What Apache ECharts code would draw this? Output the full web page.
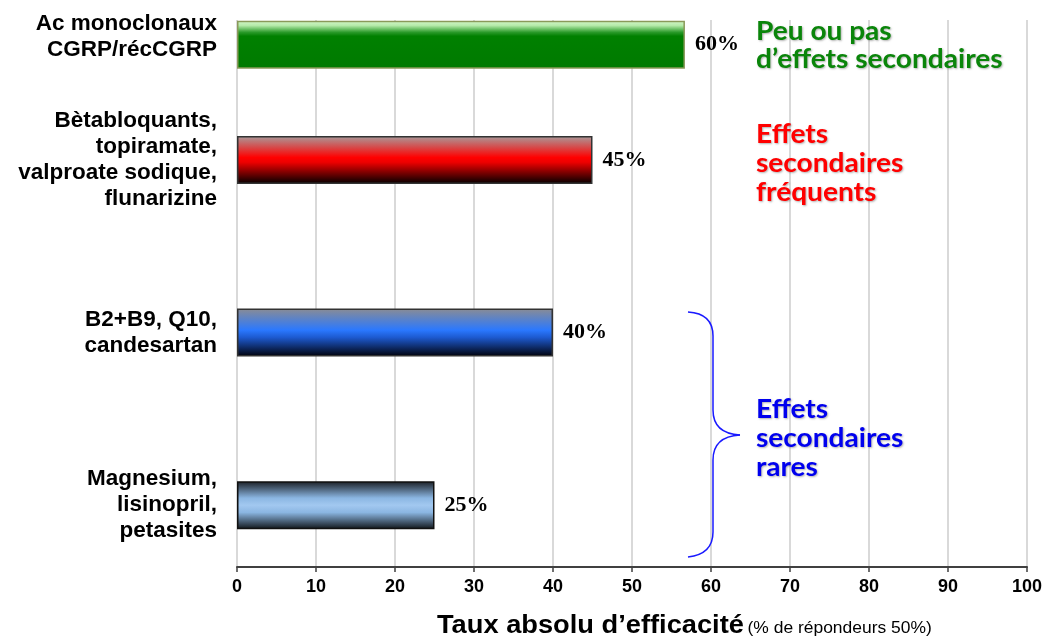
<!DOCTYPE html>
<html>
<head>
<meta charset="utf-8">
<script src="https://cdn.jsdelivr.net/npm/echarts@6/dist/echarts.min.js"></script>
<style>
html,body{margin:0;padding:0;background:#fff;}
#chart{width:1045px;height:639px;}
</style>
</head>
<body>
<div id="chart"></div>
<script>
// ---- data ----
const categories = [
  'Ac monoclonaux\nCGRP/récCGRP',
  'Bètabloquants,\ntopiramate,\nvalproate sodique,\nflunarizine',
  'B2+B9, Q10,\ncandesartan',
  'Magnesium,\nlisinopril,\npetasites'
];
const values = [56.7, 45, 40, 25];
const valueLabels = ['60%', '45%', '40%', '25%'];
const xTicks = { min: 0, max: 100, interval: 10 };
const axisTitle = 'Taux absolu d’efficacité';
const axisSubtitle = '(% de répondeurs 50%)';
const notes = [
  { text: 'Peu ou pas\nd’effets secondaires', color: '#0a850a' },
  { text: 'Effets\nsecondaires\nfréquents', color: '#ff0000' },
  { text: 'Effets\nsecondaires\nrares', color: '#0000ee' }
];

// ---- layout (slot index of each bar on the category axis) ----
const slotOf = [0, 2, 5, 8];
const slotCount = 9;

const G = echarts.graphic.LinearGradient;
const fills = [
  new G(0,0,0,1,[{offset:0,color:'#d4f8cc'},{offset:0.1,color:'#b4eaa8'},{offset:0.24,color:'#2a9a2a'},{offset:0.32,color:'#008000'},{offset:1,color:'#007a00'}]),
  new G(0,0,0,1,[{offset:0,color:'#a89c9c'},{offset:0.45,color:'#ff0000'},{offset:0.55,color:'#ee0000'},{offset:1,color:'#000000'}]),
  new G(0,0,0,1,[{offset:0,color:'#8a8c94'},{offset:0.45,color:'#2a78ff'},{offset:0.6,color:'#1d5ad0'},{offset:1,color:'#000008'}]),
  new G(0,0,0,1,[{offset:0,color:'#1a1e24'},{offset:0.35,color:'#8bb6e2'},{offset:0.5,color:'#a2c8f0'},{offset:0.65,color:'#8bb6e2'},{offset:1,color:'#101418'}])
];
const borders = ['#8a9a5a', '#333333', '#333333', '#111111'];

const catData = [];
const barData = [];
for (let s = 0; s < slotCount; s++) {
  const i = slotOf.indexOf(s);
  if (i < 0) { catData.push(''); barData.push('-'); continue; }
  catData.push(categories[i]);
  barData.push({
    value: values[i],
    itemStyle: { color: fills[i], borderColor: borders[i], borderWidth: 1.5 },
    label: { formatter: valueLabels[i] }
  });
}

const braceStyle = { stroke: '#1a1aff', lineWidth: 1.5, fill: 'none' };
const noteStyle = { fontSize: 26, lineHeight: 29, fontWeight: 'bold', fontFamily: 'Lato, "Open Sans", sans-serif',
  textShadowColor: 'rgba(0,0,0,0.3)', textShadowBlur: 2, textShadowOffsetX: 1, textShadowOffsetY: 1 };

const chart = echarts.init(document.getElementById('chart'));
chart.setOption({
  animation: false,
  grid: [
    { left: 237, right: 18, top: 16, height: 518 },
    { left: 237, right: 18, top: 20, bottom: 72 }
  ],
  xAxis: [
    { gridIndex: 0, type: 'value', min: xTicks.min, max: xTicks.max, interval: xTicks.interval, show: false },
    { gridIndex: 1, type: 'value', min: xTicks.min, max: xTicks.max, interval: xTicks.interval,
      axisLine: { show: true, lineStyle: { color: '#404040', width: 2 } },
      axisTick: { show: true, length: 5, lineStyle: { color: '#404040', width: 1.5 } },
      axisLabel: { color: '#000', fontWeight: 'bold', fontSize: 18, fontFamily: '"Liberation Sans Narrow", "Liberation Sans", Arial, sans-serif', margin: 11 },
      splitLine: { show: true, lineStyle: { color: '#d9d9d9', width: 2 } }
    }
  ],
  yAxis: [
    { gridIndex: 0, type: 'category', inverse: true, data: catData,
      axisLine: { show: false }, axisTick: { show: false },
      axisLabel: { color: '#000', fontWeight: 'bold', fontSize: 22.5, lineHeight: 26, align: 'right', margin: 20,
        fontFamily: '"Liberation Sans", Arial, sans-serif', interval: 0,
        formatter: function (v, idx) { return idx === 0 ? v + '\n{gap|}' : v; },
        rich: { gap: { lineHeight: 16, fontSize: 10 } } }
    },
    { gridIndex: 1, type: 'value', show: false }
  ],
  series: [{
    type: 'bar', xAxisIndex: 0, yAxisIndex: 0, data: barData, barWidth: 48,
    label: { show: true, position: 'right', distance: 10, color: '#000', fontWeight: 'bold', fontSize: 22,
      fontFamily: '"Liberation Serif", "Times New Roman", serif' }
  }],
  graphic: [
    { type: 'text', x: 437, y: 614, z: 10, scaleX: 1.09, style: {
      rich: {
        a: { fontSize: 25, fontWeight: 'bold', fontFamily: '"Liberation Sans", Arial, sans-serif', fill: '#000' },
        b: { fontSize: 16, fontFamily: '"Liberation Sans", Arial, sans-serif', fill: '#000', padding: [5, 0, 0, 0] }
      },
      text: '{a|' + axisTitle + '} {b|' + axisSubtitle + '}'
    } },
    { type: 'text', x: 756, y: 18, z: 10, scaleX: 1.08, style: Object.assign({ text: notes[0].text, fill: notes[0].color }, noteStyle, { lineHeight: 28 }) },
    { type: 'text', x: 756, y: 120, z: 10, scaleX: 1.08, style: Object.assign({ text: notes[1].text, fill: notes[1].color }, noteStyle) },
    { type: 'text', x: 756, y: 395, z: 10, scaleX: 1.08, style: Object.assign({ text: notes[2].text, fill: notes[2].color }, noteStyle) },
    { type: 'bezierCurve', z: 10, shape: { x1: 688, y1: 312, cpx1: 706, cpy1: 313, cpx2: 713, cpy2: 322, x2: 713, y2: 336 }, style: braceStyle },
    { type: 'line', z: 10, shape: { x1: 713, y1: 336, x2: 713, y2: 410 }, style: braceStyle },
    { type: 'bezierCurve', z: 10, shape: { x1: 713, y1: 410, cpx1: 713, cpy1: 426, cpx2: 722, cpy2: 434, x2: 740, y2: 435 }, style: braceStyle },
    { type: 'bezierCurve', z: 10, shape: { x1: 740, y1: 435, cpx1: 722, cpy1: 436, cpx2: 713, cpy2: 444, x2: 713, y2: 460 }, style: braceStyle },
    { type: 'line', z: 10, shape: { x1: 713, y1: 460, x2: 713, y2: 532 }, style: braceStyle },
    { type: 'bezierCurve', z: 10, shape: { x1: 713, y1: 532, cpx1: 713, cpy1: 546, cpx2: 706, cpy2: 555, x2: 688, y2: 557 }, style: braceStyle }
  ]
});
</script>
</body>
</html>
